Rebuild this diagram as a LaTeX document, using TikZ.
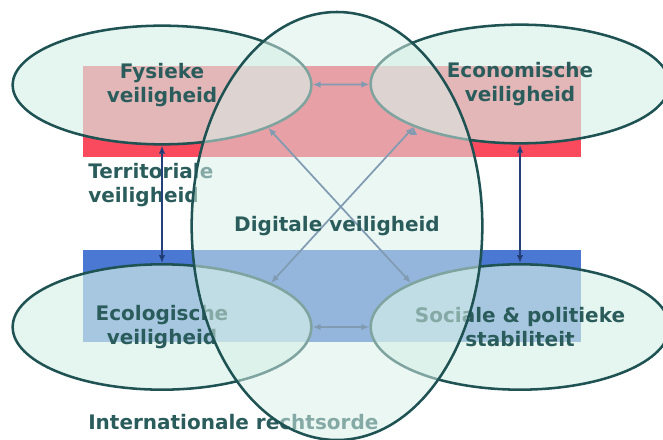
\documentclass[tikz,border=0pt]{standalone}
\usepackage{fontspec}
\setmainfont{DejaVu Sans}
\usetikzlibrary{shapes.geometric,arrows.meta}

\definecolor{mint}{HTML}{D8F0E8}
\definecolor{tealtext}{HTML}{2B5C5C}
\definecolor{rim}{HTML}{1F5252}
\definecolor{barred}{HTML}{F94A5E}
\definecolor{barblue}{HTML}{4A78D2}
\definecolor{linkcol}{HTML}{23407A}

\begin{document}
\begin{tikzpicture}[x=0.75pt,y=-0.75pt,
    font=\fontsize{15}{18}\selectfont\bfseries,
    >={Latex[length=6pt,width=5pt]},
    area node/.style={ellipse,draw=rim,line width=1.9pt,fill=mint,
      fill opacity=0.66,text opacity=1,text=tealtext,align=center,
      inner sep=0pt,minimum width=224pt,minimum height=89pt},
    link/.style={<->,draw=linkcol,line width=1.3pt},
    side label/.style={text=tealtext,align=left,anchor=west,inner sep=0pt}]
  \useasboundingbox (0,0) rectangle (663,439);
  % the two bands
  \fill[barred] (83,66) rectangle (581,157);
  \fill[barblue] (83,250) rectangle (581,342);
  \node[area node] (fys) at (162,85) {Fysieke\\veiligheid};
  \node[area node] (econ) at (520,84) {Economische\\veiligheid};
  \node[area node, minimum height=94pt] (ecol) at (162,327) {Ecologische\\veiligheid};
  \node[area node, minimum height=94pt] (soc) at (520,327) {Sociale \& politieke\\stabiliteit};
  \node[side label] (terr) at (88,185) {Territoriale\\veiligheid};
  \node[side label] (intl) at (88,422) {Internationale rechtsorde};
  \path[link]
    (fys) edge (econ)
    (ecol) edge (soc)
    (fys) edge (ecol)
    (econ) edge (soc)
    (fys.-22) edge (soc.158)
    (econ.202) edge (ecol.22)
    ;
  % digital layer on top
  \node[area node, fill opacity=0.52, minimum width=208pt, minimum height=321pt] (dig) at (337,226) {Digitale veiligheid};
\end{tikzpicture}
\end{document}
